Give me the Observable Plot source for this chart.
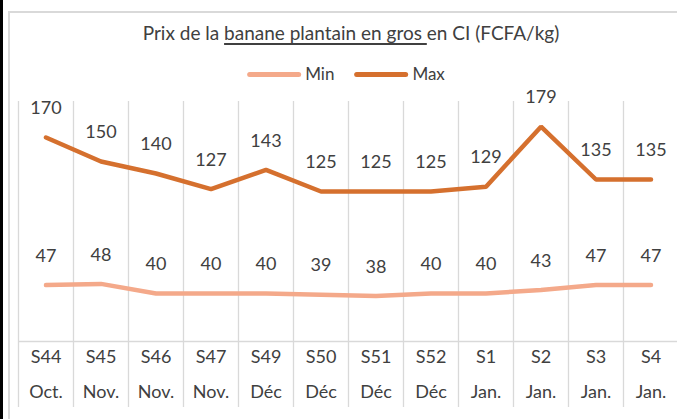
<!DOCTYPE html>
<html>
<head>
<meta charset="utf-8">
<script src="https://cdn.jsdelivr.net/npm/d3@7"></script>
<script src="https://cdn.jsdelivr.net/npm/@observablehq/plot@0.6"></script>
<style>
  html, body { margin: 0; padding: 0; background: #fff; }
  body { width: 677px; height: 419px; position: relative; overflow: hidden; font-family: Lato, "Open Sans", sans-serif; color: #404040; }
  #edge { position: absolute; left: 0; top: 0; width: 2.5px; height: 419px; background: #000; }
  #frame { position: absolute; left: 8px; top: 11px; width: 700px; height: 440px; border-left: 2px solid #d9d9d9; border-top: 2px solid #d9d9d9; }
  #title { position: absolute; top: 20px; left: 351px; transform: translateX(-50%); white-space: nowrap; font-size: 19px; line-height: 26px; }
  #title u { text-decoration-thickness: 1.5px; text-underline-offset: 3px; }
  #legend { position: absolute; top: 62px; left: 346px; transform: translateX(-50%); white-space: nowrap; font-size: 17px; line-height: 24px; display: flex; align-items: center; }
  .sw { display: inline-block; width: 54px; height: 5px; border-radius: 3px; margin-right: 4px; }
  .item { display: flex; align-items: center; margin: 0 10px; }
  #chart { position: absolute; left: 0; top: 90px; }
</style>
</head>
<body>
<div id="edge"></div>
<div id="frame"></div>
<div id="title">Prix de la <u>banane plantain en gros </u>en CI (FCFA/kg)</div>
<div id="legend"></div>
<div id="chart"></div>
<script>
const weeks = ["S44","S45","S46","S47","S49","S50","S51","S52","S1","S2","S3","S4"];
const months = ["Oct.","Nov.","Nov.","Nov.","Déc","Déc","Déc","Déc","Jan.","Jan.","Jan.","Jan."];
const minValues = [47,48,40,40,40,39,38,40,40,43,47,47];
const maxValues = [170,150,140,127,143,125,125,125,129,179,135,135];
const seriesNames = ["Min","Max"];
const seriesColors = ["#F4A98A","#D5702E"];

const rows = [];
weeks.forEach((w,i) => {
  rows.push({week: w, series: "Min", value: minValues[i]});
  rows.push({week: w, series: "Max", value: maxValues[i]});
});
const monthRows = weeks.map((w,i) => ({week: w, month: months[i]}));

const legend = document.getElementById("legend");
seriesNames.forEach((s,i) => {
  const it = document.createElement("span");
  it.className = "item";
  it.innerHTML = `<span class="sw" style="background:${seriesColors[i]}"></span>${s}`;
  legend.appendChild(it);
});

const W = 677, H = 329;
const left = 18, band = 55;
const plot = Plot.plot({
  width: W, height: H,
  marginTop: 11, marginBottom: 12, marginLeft: left, marginRight: 0,
  style: {fontFamily: "Lato, sans-serif", background: "transparent", overflow: "visible"},
  x: {type: "band", domain: weeks, range: [left, left + band * weeks.length], padding: 0, axis: null},
  y: {domain: [0, 200], range: [251, 11], axis: null},
  color: {domain: seriesNames, range: seriesColors},
  marks: [
    Plot.ruleX(weeks, {x: d => d, dx: -band / 2, stroke: "#d9d9d9", strokeWidth: 1.3}),
    Plot.ruleY([0], {stroke: "#d9d9d9", strokeWidth: 1.3}),
    Plot.line(rows, {x: "week", y: "value", z: "series", stroke: "series", strokeWidth: 4.5, strokeLinecap: "round", strokeLinejoin: "miter"}),
    Plot.text(rows, {x: "week", y: "value", text: d => String(d.value), dy: -29, fontSize: 18, fill: "#404040"}),
    Plot.text(weeks, {x: d => d, text: d => d, frameAnchor: "bottom", dy: -45, fontSize: 18, fill: "#404040"}),
    Plot.text(monthRows, {x: "week", text: "month", frameAnchor: "bottom", dy: -10, fontSize: 18, fill: "#404040"})
  ]
});
document.getElementById("chart").appendChild(plot);
</script>
</body>
</html>
